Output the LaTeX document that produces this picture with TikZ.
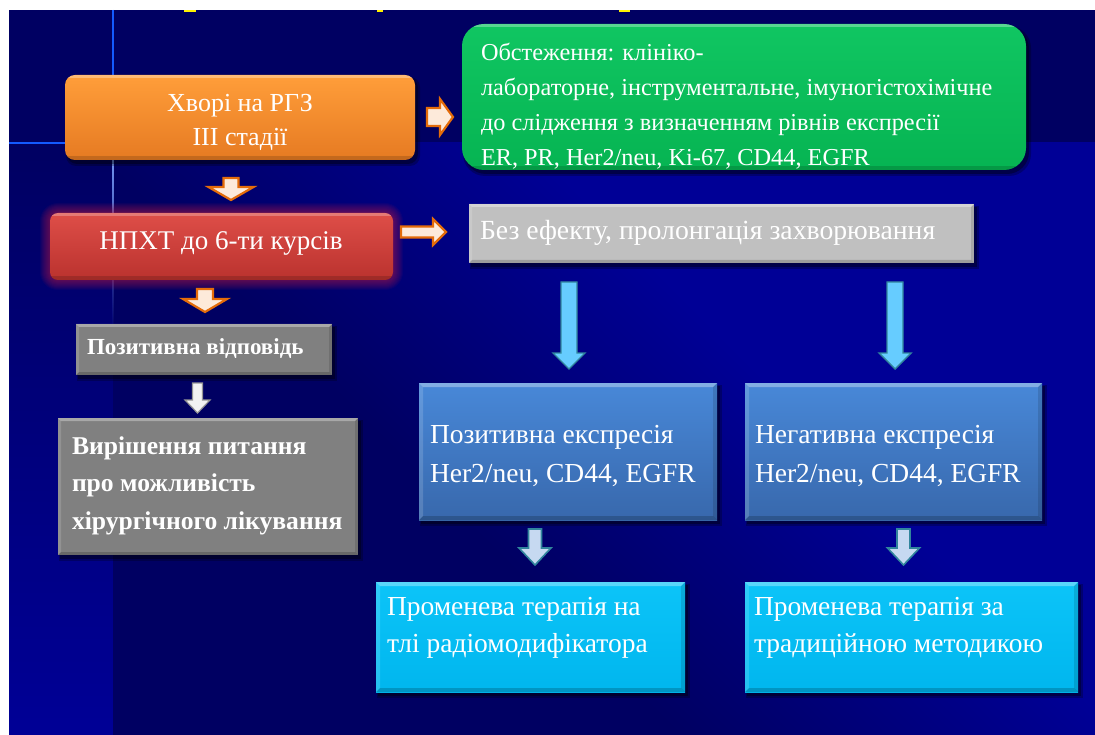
\documentclass[tikz,border=0pt]{standalone}
\usepackage{fontspec}
\setmainfont{Liberation Serif}
\usetikzlibrary{fadings}
\definecolor{navy}{RGB}{0,0,98}
\definecolor{bgblue}{RGB}{0,0,150}
\definecolor{bgline}{RGB}{20,90,255}
\definecolor{orTop}{RGB}{255,158,58}
\definecolor{orBot}{RGB}{230,122,34}
\definecolor{redTop}{RGB}{222,78,72}
\definecolor{redBot}{RGB}{186,50,46}
\definecolor{glowc}{RGB}{200,30,70}
\definecolor{grTop}{RGB}{16,198,98}
\definecolor{grBot}{RGB}{6,180,82}
\definecolor{grayD}{RGB}{128,128,128}
\definecolor{grayL}{RGB}{192,192,192}
\definecolor{blTop}{RGB}{72,136,216}
\definecolor{blBot}{RGB}{56,104,172}
\definecolor{cyTop}{RGB}{12,196,248}
\definecolor{cyBot}{RGB}{0,182,238}
\definecolor{arrLong}{RGB}{102,204,255}
\definecolor{arrTeal}{RGB}{49,133,156}
\definecolor{arrSmall}{RGB}{198,217,241}
\definecolor{arrOrange}{RGB}{228,108,10}
\definecolor{arrPeach}{RGB}{253,234,218}
\definecolor{arrGrayF}{RGB}{242,242,242}
\definecolor{arrGrayD}{RGB}{150,150,150}
\pgfdeclarehorizontalshading{bgdiag}{100bp}{color(0bp)=(navy); color(40bp)=(navy); color(60bp)=(bgblue); color(100bp)=(bgblue)}
\newcommand\fs[2]{\fontsize{#1}{#2}\selectfont}
\newcommand\fl[1]{\rule{0pt}{#1pt}}
\newcommand\boxshadow[5]{%
  \fill[black, opacity=0.25, rounded corners=#5] ({#1+1},{#2+2}) rectangle ({#3+5},{#4+6});
  \fill[black, opacity=0.35, rounded corners=#5] ({#1+2},{#2+3}) rectangle ({#3+3},{#4+4});}
\newcommand\bevel[2]{%
  \fill[white, opacity=0.32] (#1.north west) -- (#1.north east) -- ([shift={(-#2pt,-#2pt)}]#1.north east) -- ([shift={(#2pt,-#2pt)}]#1.north west) -- cycle;
  \fill[white, opacity=0.15] (#1.north west) -- ([shift={(#2pt,-#2pt)}]#1.north west) -- ([shift={(#2pt,#2pt)}]#1.south west) -- (#1.south west) -- cycle;
  \fill[black, opacity=0.18] (#1.south west) -- (#1.south east) -- ([shift={(-#2pt,#2pt)}]#1.south east) -- ([shift={(#2pt,#2pt)}]#1.south west) -- cycle;
  \fill[black, opacity=0.12] (#1.north east) -- (#1.south east) -- ([shift={(-#2pt,#2pt)}]#1.south east) -- ([shift={(-#2pt,-#2pt)}]#1.north east) -- cycle;}
\newcommand\varrow[7]{%
  \draw[#1] ({#2-#5},#3) -- ({#2+#5},#3) -- ({#2+#5},{#4-#7}) -- ({#2+#6},{#4-#7}) -- (#2,#4) -- ({#2-#6},{#4-#7}) -- ({#2-#5},{#4-#7}) -- cycle;}
\newcommand\harrow[7]{%
  \draw[#1] (#3,{#2-#5}) -- ({#4-#7},{#2-#5}) -- ({#4-#7},{#2-#6}) -- (#4,#2) -- ({#4-#7},{#2+#6}) -- ({#4-#7},{#2+#5}) -- (#3,{#2+#5}) -- cycle;}
\tikzset{
  boxbase/.style={rectangle, anchor=north west, inner sep=0pt, outer sep=0pt, draw=none},
  txt/.style={text=white, inner sep=0pt, outer sep=0pt, anchor=north west, align=left},
  txtline/.style={text=white, inner sep=0pt, outer sep=0pt},
  oarrow/.style={draw=arrOrange, line width=2.2pt, fill=arrPeach, line join=miter},
  garrow/.style={draw=arrGrayD, line width=1.2pt, fill=arrGrayF, line join=miter},
  larrow/.style={draw=arrTeal, line width=1.4pt, fill=arrLong, line join=miter},
  sarrow/.style={draw=arrTeal, line width=1.6pt, fill=arrSmall, line join=miter}
}
\begin{document}
\begin{tikzpicture}[x=1pt,y=-1pt]
\useasboundingbox (0,0) rectangle (1095,735);
% background
\fill[white] (0,0) rectangle (1095,735);
\fill[navy] (9,10) rectangle (1095,735);
\shade[top color=navy, bottom color=bgblue] (9,143) rectangle (113,735);
\shade[shading=bgdiag, shading angle=45] (113,143) rectangle (1095,735);
\draw[bgline, line width=1.2pt] (9,143) -- (113,143);
\draw[bgline, line width=1.2pt] (113,10) -- (113,143);
\fill[bgline!55!white, path fading=south] (112.4,143) rectangle (113.8,330);
\fill[yellow] (184,10) rectangle (196,12);
\fill[yellow] (377,10) rectangle (383,12);
\fill[yellow] (619,10) rectangle (630,12);

% orange box
\boxshadow{65}{75}{415}{160}{10pt}
\node[boxbase, rounded corners=10pt, minimum width=350pt, minimum height=85pt, top color=orTop, bottom color=orBot] (hvori) at (65,75) {};
\begin{scope}
\clip[rounded corners=10pt] (65,75) rectangle (415,160);
\fill[white, opacity=0.3] (65,75) rectangle (415,78);
\fill[black, opacity=0.15] (65,156) rectangle (415,160);
\end{scope}
\node[txt, anchor=north, align=center, font=\fs{26}{34}] (thvori) at (240,88.9) {\fl{23.1}Хворі на РГЗ\\III стадії};

% red box with glow
\foreach \g in {1,...,10} {
  \pgfmathsetmacro\rc{8+\g}
  \fill[glowc, opacity=0.06, rounded corners=\rc pt] ({50-\g},{213-\g}) rectangle ({393+\g},{280+\g});
}
\node[boxbase, rounded corners=8pt, minimum width=343pt, minimum height=67pt, top color=redTop, bottom color=redBot] (npxt) at (50,213) {};
\begin{scope}
\clip[rounded corners=8pt] (50,213) rectangle (393,280);
\fill[white, opacity=0.25] (50,213) rectangle (393,216);
\fill[black, opacity=0.15] (50,276) rectangle (393,280);
\end{scope}
\node[txtline, anchor=base, font=\fs{27}{33}] (tnpxt) at (221,250) {НПХТ до 6-ти курсів};

% positive response
\boxshadow{76}{324}{332}{375}{0pt}
\node[boxbase, minimum width=256pt, minimum height=51pt, fill=grayD] (posresp) at (76,324) {};
\bevel{posresp}{3}
\node[txtline, anchor=base west, font=\bfseries\fs{23}{28}] (tposresp) at (87,355) {Позитивна відповідь};

% surgery decision
\boxshadow{58}{418}{358}{555}{0pt}
\node[boxbase, minimum width=300pt, minimum height=137pt, fill=grayD] (surg) at (58,418) {};
\bevel{surg}{3}
\node[txt, font=\bfseries\fs{25.6}{37.5}] (tsurg) at (72,428.1) {\fl{25.9}Вирішення питання\\про можливість\\хірургічного лікування};

% green box
\boxshadow{462}{24}{1026}{170}{22pt}
\node[boxbase, rounded corners=22pt, minimum width=564pt, minimum height=146pt, top color=grTop, bottom color=grBot] (exam) at (462,24) {};
\begin{scope}
\clip[rounded corners=22pt] (462,24) rectangle (1026,170);
\fill[white, opacity=0.3] (462,24) rectangle (1026,27);
\fill[black, opacity=0.15] (462,166) rectangle (1026,170);
\end{scope}
\node[txt, font=\fs{24.3}{35}] (texam) at (481,37.2) {\fl{23.8}Обстеження: клініко-\\лабораторне, інструментальне, імуногістохімічне\\до слідження з визначенням рівнів експресії\\ER, PR, Her2/neu, Ki-67, CD44, EGFR};

% no effect
\boxshadow{469}{204}{974}{263}{0pt}
\node[boxbase, minimum width=505pt, minimum height=59pt, fill=grayL] (noeff) at (469,204) {};
\bevel{noeff}{3}
\node[txtline, anchor=base west, font=\fs{27.7}{33}] (tnoeff) at (480,240) {Без ефекту, пролонгація захворювання};

% blue boxes
\boxshadow{419}{383}{717}{520}{0pt}
\node[boxbase, minimum width=298pt, minimum height=137pt, top color=blTop, bottom color=blBot] (posexp) at (419,383) {};
\bevel{posexp}{4}
\node[txt, font=\fs{27.5}{39}] (tposexp) at (430,415.7) {\fl{27.3}Позитивна експресія\\Her2/neu, CD44, EGFR};

\boxshadow{745}{383}{1042}{520}{0pt}
\node[boxbase, minimum width=297pt, minimum height=137pt, top color=blTop, bottom color=blBot] (negexp) at (745,383) {};
\bevel{negexp}{4}
\node[txt, font=\fs{27.5}{39}] (tnegexp) at (755,415.7) {\fl{27.3}Негативна експресія\\Her2/neu, CD44, EGFR};

% cyan boxes
\boxshadow{376}{582}{685}{692}{0pt}
\node[boxbase, minimum width=309pt, minimum height=110pt, top color=cyTop, bottom color=cyBot] (rad1) at (376,582) {};
\bevel{rad1}{4}
\node[txt, font=\fs{27.5}{37}] (trad1) at (387,589.1) {\fl{25.9}Променева терапія на\\тлі радіомодифікатора};

\boxshadow{745}{582}{1078}{692}{0pt}
\node[boxbase, minimum width=333pt, minimum height=110pt, top color=cyTop, bottom color=cyBot] (rad2) at (745,582) {};
\bevel{rad2}{4}
\node[txt, font=\fs{27.5}{37}] (trad2) at (754,589.1) {\fl{25.9}Променева терапія за\\традиційною методикою};

% block arrows
\harrow{oarrow}{117}{427}{453}{9}{18}{13}
\varrow{oarrow}{231}{178}{200}{7.5}{22.5}{13}
\harrow{oarrow}{232}{401}{446}{5.5}{13}{13}
\varrow{oarrow}{205}{289}{312}{8}{22}{13}
\varrow{garrow}{197.5}{383}{413}{5}{12.5}{13}
\varrow{larrow}{569}{282}{369}{8}{16}{16}
\varrow{larrow}{895}{282}{369}{8}{16}{16}
\varrow{sarrow}{535}{529}{565}{6.5}{16}{17}
\varrow{sarrow}{903.5}{529}{565}{6.5}{16}{17}
\end{tikzpicture}
\end{document}
